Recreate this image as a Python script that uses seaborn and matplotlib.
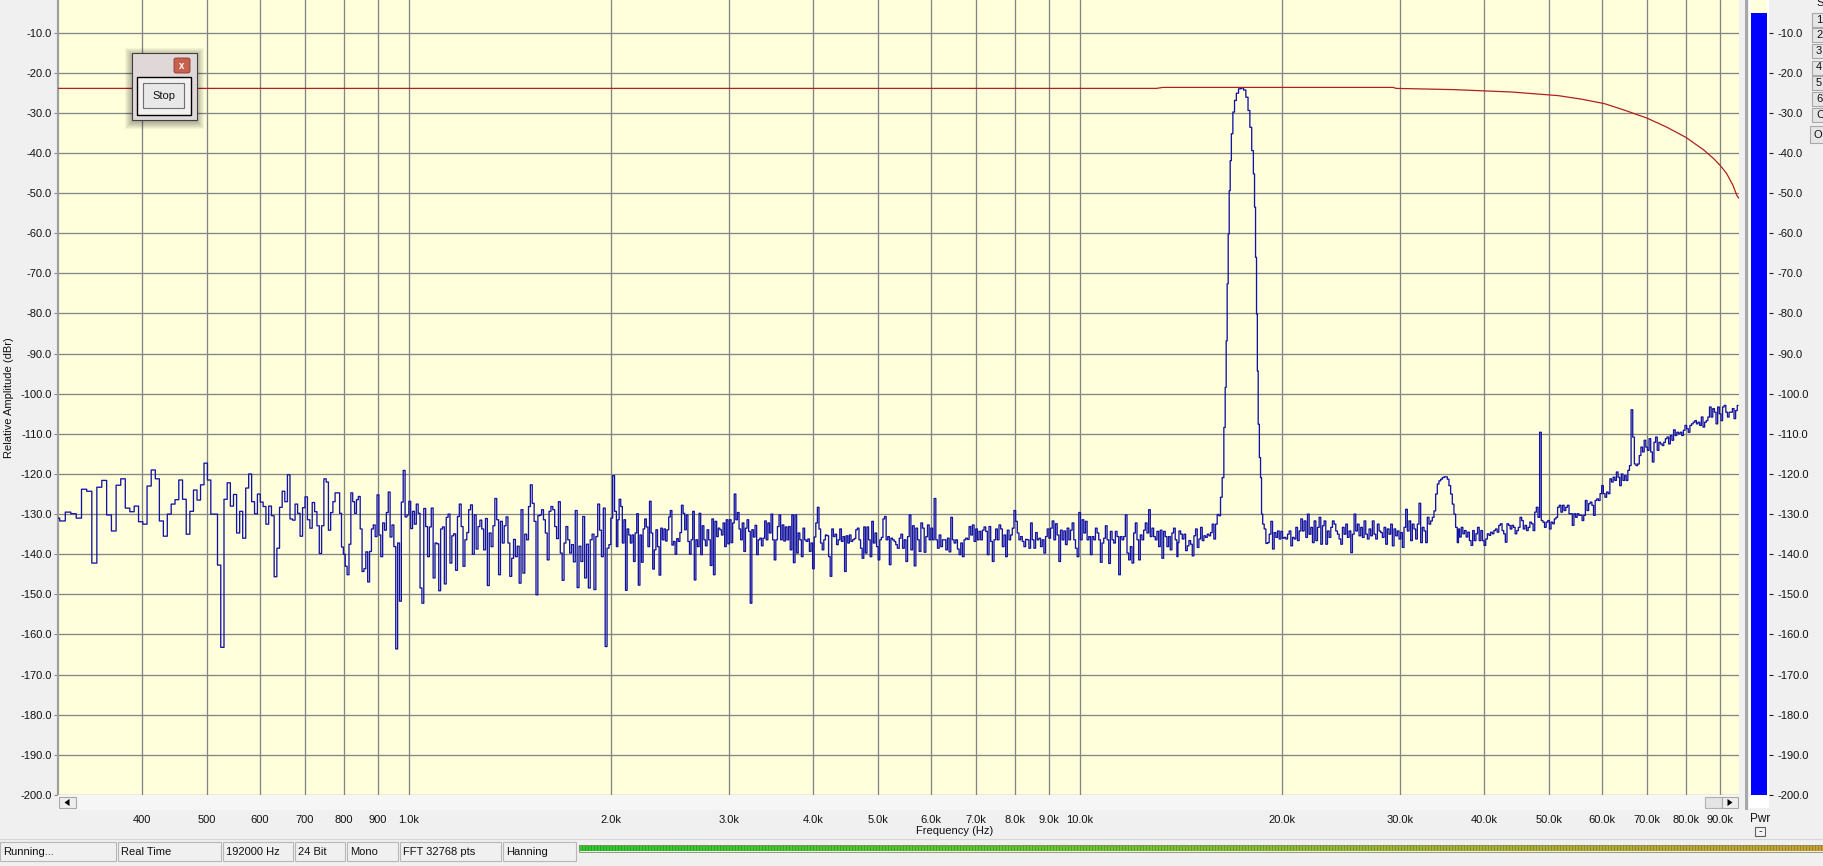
import numpy as np
import pandas as pd
import matplotlib
matplotlib.use('Agg')
import matplotlib.pyplot as plt
from matplotlib.patches import Rectangle, FancyBboxPatch, Polygon
import seaborn as sns

# analyser settings from the status bar
FS = 192000
NFFT = 32768
BIN_HZ = FS / NFFT

# lowest part of the spectrum: one value per FFT bin, starting at bin 51
low_bin0 = 51
low_db = [-131.0, -131.7, -129.5, -129.9, -131.0, -123.8, -124.3, -142.2, -123.3, -121.6,
          -130.2, -134.2, -122.8, -121.2, -128.5, -129.4, -128.0, -131.9, -132.5, -123.0,
          -119.0, -121.2, -131.7, -135.5, -130.0, -127.5, -126.4, -121.5, -126.3, -135.0,
          -129.3, -124.0, -126.5, -122.7, -117.3, -121.5, -130.0, -130.0, -142.7, -163.2,
          -126.3, -122.2, -128.0, -125.1, -134.7, -129.3, -136.0, -123.5, -120.0, -126.9,
          -129.9, -125.0, -127.0, -128.1, -132.5, -128.0, -130.4, -145.6, -138.5, -128.3,
          -124.3, -126.9, -120.2, -131.2, -131.5, -127.5, -129.8, -135.5, -128.4, -125.7,
          -131.4, -133.5, -127.1, -129.4, -132.9, -139.8, -132.9, -121.2, -122.0, -134.0,
          -129.6, -126.9, -124.7]

# rest of the noise floor, read along the trace between two frequencies (Hz)
seg_b_hz = (786, 2045)
seg_b_db = [-124.7, -129.8, -138.2, -140.0, -143.0, -145.1, -137.5, -124.7, -126.9, -129.8,
            -126.4, -125.6, -133.7, -144.3, -143.6, -139.4, -146.9, -139.3, -133.7, -132.7,
            -135.6, -125.2, -135.2, -140.6, -132.2, -134.0, -129.6, -124.5, -135.7, -132.7,
            -138.1, -163.6, -137.2, -151.7, -127.0, -119.1, -130.7, -130.2, -126.8, -133.6,
            -129.3, -132.5, -127.5, -129.8, -148.4, -152.2, -128.6, -133.1, -140.6, -133.2,
            -128.5, -145.9, -137.2, -137.4, -149.1, -133.7, -133.2, -147.4, -130.8, -130.0,
            -142.2, -135.4, -134.9, -144.0, -130.6, -127.5, -133.1, -143.0, -136.4, -134.6,
            -128.9, -127.7, -140.0, -130.2, -138.7, -133.1, -131.5, -133.7, -138.9, -131.1,
            -147.8, -134.7, -138.1, -132.9, -126.1, -131.4, -145.1, -131.8, -137.2, -132.9,
            -130.7, -137.2, -145.5, -141.0, -136.3, -140.6, -138.0, -147.2, -128.9, -144.7,
            -135.0, -136.4, -128.1, -122.7, -127.3, -131.8, -150.1, -130.4, -130.2, -128.9,
            -131.4, -134.7, -141.4, -129.3, -128.1, -128.9, -133.1, -136.1, -126.9, -139.7,
            -146.5, -137.2, -133.1, -136.4, -139.7, -137.6, -141.9, -129.1, -148.3, -138.0,
            -141.8, -130.6, -145.9, -137.5, -148.4, -136.4, -135.0, -148.8, -135.6, -127.5,
            -134.0, -140.6, -128.5, -163.0, -138.5, -137.6, -131.0, -120.4, -129.3, -138.1]

seg_c_hz = (2052, 5360)
seg_c_db = [-131.4, -126.3, -128.1, -137.2, -131.4, -149.0, -133.7, -135.2, -137.2, -135.2,
            -141.8, -134.7, -129.9, -147.7, -135.2, -142.0, -133.7, -131.2, -133.2, -138.1,
            -126.8, -134.7, -143.7, -138.9, -133.9, -138.1, -145.2, -133.5, -136.4, -133.7,
            -136.7, -133.9, -130.7, -129.1, -137.7, -136.8, -140.0, -136.1, -136.8, -134.6,
            -127.8, -129.8, -133.9, -130.2, -136.8, -140.0, -136.4, -129.3, -146.4, -136.4,
            -138.1, -129.8, -140.1, -132.9, -136.4, -137.9, -133.9, -136.4, -142.8, -131.2,
            -145.1, -131.8, -135.6, -133.5, -133.9, -135.2, -132.2, -138.1, -131.4, -137.4,
            -131.4, -137.1, -132.2, -125.0, -131.4, -129.6, -133.7, -136.4, -132.2, -139.3,
            -133.5, -131.4, -134.3, -152.2, -133.9, -135.7, -132.8, -140.1, -136.4, -136.0,
            -137.9, -136.0, -131.7, -136.4, -132.2, -134.7, -130.0, -136.4, -141.4, -136.4,
            -133.1, -130.2, -136.4, -132.7, -136.7, -133.2, -136.4, -133.1, -138.9, -130.2,
            -142.1, -130.2, -139.7, -134.7, -136.4, -140.6, -133.5, -136.4, -136.8, -136.2,
            -139.3, -137.2, -143.6, -135.7, -132.2, -128.3, -133.7, -137.2, -138.9, -136.4,
            -135.2, -135.4, -140.6, -145.5, -133.7, -135.6, -135.0, -137.6, -136.4, -133.7,
            -136.8, -135.6, -144.3, -135.4, -137.2, -135.2, -136.8, -136.4, -136.1, -133.9,
            -133.5, -136.4, -138.5, -141.0, -133.2, -139.7, -133.2, -136.4, -140.6, -131.8,
            -137.2, -134.7, -138.1, -141.4, -136.4, -135.8, -131.2, -130.6, -136.4, -135.6,
            -142.6, -136.0, -136.4, -136.8, -137.6, -138.5]

seg_d_hz = (5365, 13990)
seg_d_db = [-138.5, -136.0, -135.0, -138.5, -136.4, -141.8, -135.6, -130.2, -138.9, -132.9,
            -142.9, -133.5, -136.4, -139.3, -132.2, -133.5, -139.5, -135.6, -132.7, -136.4,
            -133.5, -136.4, -126.1, -136.4, -138.5, -135.2, -138.1, -136.4, -136.4, -138.9,
            -136.0, -139.4, -130.8, -136.4, -137.2, -136.4, -138.7, -140.1, -137.2, -140.6,
            -136.4, -136.0, -136.3, -133.1, -135.2, -132.7, -136.8, -133.7, -136.4, -134.3,
            -136.4, -134.0, -133.2, -134.3, -140.1, -133.1, -136.8, -141.8, -136.4, -133.7,
            -136.4, -132.7, -133.7, -138.1, -135.2, -140.6, -134.0, -136.4, -135.2, -133.5,
            -129.1, -131.8, -134.7, -136.4, -135.6, -136.8, -138.1, -136.3, -136.4, -138.5,
            -132.2, -136.4, -138.5, -134.6, -136.4, -136.0, -138.1, -136.4, -139.7, -135.6,
            -133.7, -136.0, -133.5, -131.7, -136.4, -132.4, -135.2, -141.8, -134.0, -136.4,
            -134.2, -137.6, -133.5, -136.4, -134.0, -132.2, -136.4, -138.5, -140.6, -129.6,
            -136.4, -131.4, -134.7, -131.8, -136.4, -135.6, -140.1, -135.6, -136.4, -133.5,
            -134.7, -136.4, -142.0, -137.2, -136.0, -132.9, -136.4, -142.3, -134.3, -136.4,
            -137.2, -134.3, -135.6, -145.1, -135.6, -136.4, -135.6, -130.2, -139.7, -141.4,
            -138.1, -142.2, -134.7, -132.2, -136.4, -141.4, -135.2, -136.4, -134.0, -132.2,
            -134.7, -128.9, -135.6, -133.5, -135.6, -136.4, -134.3, -138.1, -134.0, -141.0,
            -134.3, -135.6, -138.1, -135.6, -138.9, -134.7, -133.5, -136.4, -140.6]

seg_e_hz = (14010, 15973)
seg_e_db = [-137.1, -134.2, -135.0, -136.2, -135.0, -139.1, -137.9, -136.6, -137.5, -140.4,
            -135.4, -133.7, -138.3, -136.2, -133.3, -136.6, -135.4, -135.8, -135.0, -135.4,
            -134.6, -132.5, -136.2, -132.5]

# the test tone
peak_hz = [16064, 16157, 16249, 16342, 16436, 16493, 16549, 16606, 16664, 16721,
           16779, 16856, 16952, 17049, 17166, 17305, 17464, 17604, 17746, 17868,
           17971, 18095, 18178, 18240, 18303, 18365, 18407, 18471, 18556, 18620, 18684]
peak_db = [-130.1, -130.4, -125.8, -120.9, -108.4, -98.4, -86.8, -72.6, -60.2, -49.4,
           -41.9, -35.2, -29.8, -26.9, -25.1, -24.0, -23.8, -24.3, -26.1, -29.4,
           -33.6, -39.4, -45.2, -53.5, -66.0, -80.1, -94.3, -107.6, -115.9, -120.9, -130.0]

seg_g_hz = (18770, 36616)
seg_g_db = [-132.5, -133.7, -137.3, -137.1, -135.0, -131.8, -138.7, -134.6, -135.8, -134.2,
            -136.2, -134.3, -136.0, -135.8, -136.2, -135.0, -134.2, -137.9, -135.8, -136.2,
            -133.3, -136.6, -134.2, -131.2, -134.2, -131.7, -135.8, -130.0, -135.0, -133.3,
            -137.1, -131.7, -136.6, -133.3, -130.8, -137.5, -132.9, -131.7, -137.5, -134.2,
            -135.8, -133.3, -131.7, -132.5, -134.2, -135.0, -136.2, -137.5, -133.3, -135.0,
            -132.5, -135.8, -134.2, -139.6, -135.0, -130.0, -134.2, -132.5, -135.4, -133.3,
            -135.8, -131.7, -135.0, -136.2, -133.7, -135.4, -131.7, -135.0, -136.2, -132.5,
            -134.2, -134.6, -135.8, -133.3, -137.5, -133.7, -135.0, -132.5, -137.9, -133.7,
            -135.4, -134.2, -136.2, -134.6, -138.3, -133.3, -128.8, -134.2, -131.7, -136.6,
            -132.5, -133.7, -136.2, -132.5, -127.3, -137.1, -133.3, -134.2, -137.1, -130.8,
            -132.5, -131.7, -130.8, -129.2, -125.0, -122.5, -121.7, -121.3, -120.9, -120.7,
            -120.7, -121.3, -122.9, -125.0, -127.5, -130.0, -133.3, -137.1]

seg_h_hz = (36700, 95700)
seg_h_db = [-133.7, -135.7, -133.3, -134.9, -134.1, -135.7, -134.5, -136.6, -137.8, -134.1,
            -136.6, -134.9, -133.3, -136.6, -134.1, -136.6, -137.8, -136.2, -134.9, -135.3,
            -134.5, -134.9, -134.1, -133.7, -134.5, -132.8, -132.4, -134.1, -134.9, -137.0,
            -132.4, -132.8, -133.7, -132.8, -133.3, -134.9, -134.1, -133.3, -130.8, -131.6,
            -133.7, -132.8, -134.1, -133.3, -132.0, -132.4, -134.1, -129.5, -128.3, -130.8,
            -109.6, -131.6,
            -132.0, -133.3, -132.0, -131.6, -133.7, -132.0, -132.4, -131.2, -130.8, -128.3,
            -127.8, -129.5, -127.8, -129.1, -128.3, -127.8, -129.9, -129.9, -132.8, -129.9,
            -130.8, -129.9, -130.3, -130.3, -131.6, -130.3, -126.6, -129.1, -127.4, -127.0,
            -127.8, -130.3, -126.6, -126.2, -126.6, -124.9, -122.9, -124.9, -125.8, -124.5,
            -124.9, -121.2, -122.0, -120.8, -121.6, -119.5, -120.8, -122.9, -120.0, -121.6,
            -120.4, -121.6, -119.1,
            -117.9, -104.0, -110.8, -117.5,
            -117.9, -117.5, -115.4, -113.3, -114.5, -111.6, -113.3, -114.1, -111.2, -114.5,
            -117.0, -112.1, -110.8, -114.1, -112.1, -112.5, -112.9, -112.1, -111.2, -110.8,
            -112.5, -110.4, -111.6, -109.0, -110.4, -109.6, -110.0, -109.6, -110.4, -109.1,
            -107.9, -108.7, -109.6, -107.9, -107.5, -107.1, -106.7, -107.5, -107.1, -107.9,
            -105.8, -108.3, -107.1, -106.7, -105.8, -103.3, -105.8, -103.7, -104.6, -107.5,
            -103.3, -105.0, -106.7, -103.3, -102.9, -104.6, -105.8, -104.6, -104.6, -103.7,
            -106.2, -104.2, -102.9]

# red reference curve
ref_hz = [300, 13000, 13300, 29300, 29600, 36000, 44000, 51600, 56000, 60500, 65000,
          70000, 75000, 80000, 85000, 88000, 90000, 92000, 94000, 95300, 96000]
ref_db = [-23.9, -23.9, -23.65, -23.65, -23.9, -24.2, -24.8, -25.7, -26.6, -27.7, -29.4,
          -31.3, -33.6, -36.1, -39.2, -41.4, -43.1, -45.1, -48.0, -50.6, -51.3]

# power meter reading
pwr_db = -5.0

freq_ticks = [400, 500, 600, 700, 800, 900, 1000, 2000, 3000, 4000, 5000, 6000, 7000,
              8000, 9000, 10000, 20000, 30000, 40000, 50000, 60000, 70000, 80000, 90000]
db_ticks = list(range(-10, -201, -10))

status_items = [(0, 116, 'Running...'), (118, 221, 'Real Time'), (223, 293, '192000 Hz'),
                (295, 345, '24 Bit'), (347, 398, 'Mono'), (400, 501, 'FFT 32768 pts'),
                (503, 576, 'Hanning')]

# ---------------------------------------------------------------------------
hz_parts = [np.arange(low_bin0, low_bin0 + len(low_db)) * BIN_HZ]
db_parts = [np.array(low_db)]
for rng, vals in [(seg_b_hz, seg_b_db), (seg_c_hz, seg_c_db), (seg_d_hz, seg_d_db),
                  (seg_e_hz, seg_e_db)]:
    hz_parts.append(np.geomspace(rng[0], rng[1], len(vals)))
    db_parts.append(np.array(vals))
hz_parts.append(np.array(peak_hz, dtype=float))
db_parts.append(np.array(peak_db))
for rng, vals in [(seg_g_hz, seg_g_db), (seg_h_hz, seg_h_db)]:
    hz_parts.append(np.geomspace(rng[0], rng[1], len(vals)))
    db_parts.append(np.array(vals))
spec = pd.DataFrame({'hz': np.concatenate(hz_parts), 'db': np.concatenate(db_parts)})
ref = pd.DataFrame({'hz': ref_hz, 'db': ref_db})

sns.set_theme(style='white')
plt.rcParams['font.family'] = ['Liberation Sans', 'DejaVu Sans']
plt.rcParams['axes.unicode_minus'] = False

W, H = 1823, 866
YELLOW = '#FFFFDC'
GRID = '#858585'
BG = '#F0F0F0'


def frac(x0, y0, x1, y1):
    return [x0 / W, 1 - y1 / H, (x1 - x0) / W, (y1 - y0) / H]


fig = plt.figure(figsize=(W / 100, H / 100), dpi=100, facecolor=BG)

# main spectrum plot
ax = fig.add_axes(frac(58, 0, 1739, 795))
ax.set_facecolor(YELLOW)
ax.set_xscale('log')
sns.lineplot(data=spec, x='hz', y='db', ax=ax, color='#1414A4', lw=0.95,
             drawstyle='steps-mid', estimator=None, sort=False, zorder=3)
sns.lineplot(data=ref, x='hz', y='db', ax=ax, color='#B02020', lw=0.9,
             estimator=None, sort=False, zorder=4)
ax.set_xlim(300, 96000)
ax.set_ylim(-200, -1.87)
ax.xaxis.set_minor_locator(matplotlib.ticker.NullLocator())
ax.set_xticks(freq_ticks, [str(f) if f < 1000 else f'{f / 1000:.1f}k' for f in freq_ticks])
ax.set_yticks(db_ticks, [f'{v:.1f}' for v in db_ticks])
ax.grid(True, color=GRID, lw=0.95)
ax.set_axisbelow(True)
for side in ['top', 'right', 'bottom']:
    ax.spines[side].set_visible(False)
ax.spines['left'].set_color('#A0A0A0')
ax.spines['left'].set_linewidth(1.6)
ax.tick_params(axis='x', length=13.8, width=0.8, color='#303030', pad=0.5, labelsize=8,
               labelcolor='#111111')
ax.tick_params(axis='y', length=3, width=0.8, color=GRID, pad=1.5, labelsize=8,
               labelcolor='#111111', left=True)
ax.set_xlabel('Frequency (Hz)', fontsize=8, color='#111111')
ax.xaxis.set_label_coords((955 - 58) / 1681, -(826 - 795) / 795)
ax.set_ylabel('Relative Amplitude (dBr)', fontsize=8, color='#111111')
ax.yaxis.set_label_coords(-0.026, 0.5)

# power meter
axm = fig.add_axes(frac(1749, 0, 1769, 795))
axm.set_facecolor('white')
axm.set_xlim(-0.5, 0.5)
axm.set_ylim(-200, -1.87)
axm.axvspan(-0.4, 0.4, color=YELLOW, lw=0)
axm.bar(0, pwr_db - (-200), bottom=-200, width=0.8, color='#0000FF', lw=0)
for s in axm.spines.values():
    s.set_visible(False)
axm.set_xticks([])
axm.yaxis.tick_right()
axm.set_yticks(db_ticks, [f'{v:.1f}' for v in db_ticks])
axm.tick_params(axis='y', right=True, length=3, width=0.8, color='#222222', pad=3,
                labelsize=8, labelcolor='#111111')

# window furniture drawn in pixel coordinates
ov = fig.add_axes([0, 0, 1, 1])
ov.set_zorder(10)
ov.patch.set_alpha(0)
ov.axis('off')


def box(x0, y0, x1, y1, fc, ec='none', lw=0.8, z=2):
    ov.add_patch(Rectangle((x0, y0), x1 - x0, y1 - y0, fc=fc, ec=ec, lw=lw, zorder=z))


# scroll bar under the plot
box(58, 795, 1739, 810, '#F6F6F6')
box(59, 797, 76, 808, '#EEEEEE', '#A8A8A8')
ov.add_patch(Polygon([[64.5, 802.5], [69.5, 799], [69.5, 806]], closed=True, fc='black',
                     ec='none', zorder=3))
box(1705, 797, 1722, 808, '#E4E4E4', '#B0B0B0')
box(1722, 797, 1738, 808, '#EEEEEE', '#A8A8A8')
ov.add_patch(Polygon([[1732.5, 802.5], [1727.5, 799], [1727.5, 806]], closed=True, fc='black',
                     ec='none', zorder=3))

# separator and meter surround
box(1745, 0, 1748, 810, '#A8A8A8')
box(1749, 795, 1769, 808, 'white')
ov.text(1760, 819, 'Pwr', ha='center', va='center', fontsize=8.5, color='#111111')
box(1755, 827, 1765, 836, '#F4F4F4', '#606060')
ov.text(1760, 831, '-', ha='center', va='center', fontsize=8, color='#111111')

# channel buttons at the right edge
for lab, yc in zip(['S', '1', '2', '3', '4', '5', '6', 'C'], [3, 20, 35, 51, 67.5, 83, 99, 115]):
    if lab != 'S':
        box(1812, yc - 7, 1826, yc + 7, '#E6E6E6', '#A8A8A8')
    ov.text(1816, yc, lab, ha='left', va='center', fontsize=8, color='#111111', zorder=4)
box(1810, 126, 1826, 143, '#E6E6E6', '#A8A8A8')
ov.text(1814, 134.5, 'O', ha='left', va='center', fontsize=8, color='#111111', zorder=4)

# status bar
ov.plot([0, W], [839, 839], color='#D6D6D6', lw=0.8)
for x0, x1, txt in status_items:
    box(x0, 842, x1, 861, BG, '#B8B8B8')
    ov.text(x0 + 3, 852, txt, ha='left', va='center', fontsize=8, color='#111111', zorder=4)
cols = np.arange(579, W)
t = (cols - 579) / (W - 579)
rgb = np.stack([np.interp(t, [0, 0.4, 0.65, 1], [0.18, 0.42, 0.62, 0.78]),
                np.interp(t, [0, 0.4, 0.65, 1], [0.80, 0.78, 0.72, 0.64]),
                np.interp(t, [0, 0.4, 0.65, 1], [0.18, 0.20, 0.20, 0.20])], axis=-1)
rgb[(cols % 3) == 0] *= 0.8
ov.imshow(rgb[None, :, :], extent=(579, W, 851, 845), aspect='auto',
          interpolation='nearest', zorder=2)
box(579, 844.5, W, 851.5, 'none', '#8A8A6A', lw=0.6, z=3)

# the little "Stop" dialog
for i in range(8):
    box(131.7 - i, 53.3 - i + 2, 196.7 + i, 120 + i + 2, 'black', z=5)
    ov.patches[-1].set_alpha(0.045)
box(131.7, 53.3, 196.7, 120, '#E0D8D8', '#404040', lw=0.8, z=6)
ov.add_patch(FancyBboxPatch((174, 58), 16, 15, boxstyle='round,pad=0,rounding_size=2',
                            fc='#C9604E', ec='#8A3A30', lw=0.6, zorder=7))
ov.text(182, 65.8, 'x', ha='center', va='center', fontsize=7, color='white',
        fontweight='bold', zorder=8)
box(137, 77.3, 190.7, 115, '#F2F0F0', 'black', lw=1.0, z=7)
box(143.3, 83.3, 184.3, 108.3, '#E8E8E8', '#707070', lw=0.8, z=8)
ov.text(163.8, 96, 'Stop', ha='center', va='center', fontsize=8, color='#111111', zorder=9)

ov.set_xlim(0, W)
ov.set_ylim(H, 0)

fig.savefig('out.png', dpi=100, facecolor=fig.get_facecolor())
